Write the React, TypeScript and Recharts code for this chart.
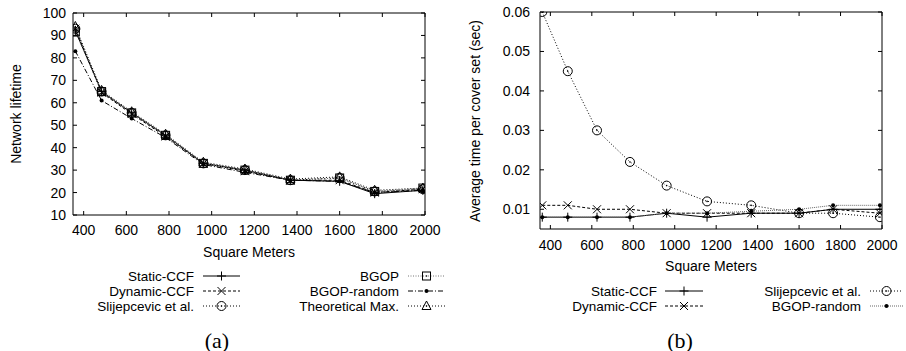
import React from 'react';
import { LineChart, Line, XAxis, YAxis, ReferenceArea } from 'recharts';

// ---------- data ----------
const areas = [361, 484, 625, 784, 961, 1156, 1369, 1600, 1764, 1990];
const xTicks = [400, 600, 800, 1000, 1200, 1400, 1600, 1800, 2000];

// (a) Network lifetime
const lifeStatic = [92, 65, 55.5, 45.5, 33, 30, 25.5, 25, 19.5, 21];
const lifeDynamic = [93, 64.5, 55, 45, 33, 29.5, 25.5, 25.5, 20, 21.5];
const lifeSlij = [93, 65, 55.5, 45.5, 33, 30, 25.5, 26.5, 20.5, 21.5];
const lifeBgop = [91.5, 65, 55.5, 45.5, 33, 30, 25.5, 26.5, 20.5, 22];
const lifeBgopRandom = [83, 61, 53, 44.5, 32.5, 29, 25.5, 25, 20, 21];
const lifeTheoMax = [94, 65.5, 56, 46, 33.5, 30.5, 26, 27, 21, 22];
const lifeYTicks = [10, 20, 30, 40, 50, 60, 70, 80, 90, 100];

// (b) Average time per cover set (sec)
const timeStatic = [0.008, 0.008, 0.008, 0.008, 0.009, 0.008, 0.009, 0.009, 0.01, 0.01];
const timeDynamic = [0.011, 0.011, 0.01, 0.01, 0.009, 0.009, 0.009, 0.009, 0.01, 0.009];
const timeSlij = [0.06, 0.045, 0.03, 0.022, 0.016, 0.012, 0.011, 0.009, 0.009, 0.008];
const timeBgopRandom = [0.008, 0.008, 0.008, 0.008, 0.009, 0.009, 0.0095, 0.01, 0.011, 0.011];
const timeYTicks = [0.01, 0.02, 0.03, 0.04, 0.05, 0.06];

const lifeRows = areas.map((x, i) => ({
  x,
  s: lifeStatic[i],
  d: lifeDynamic[i],
  sl: lifeSlij[i],
  b: lifeBgop[i],
  br: lifeBgopRandom[i],
  t: lifeTheoMax[i],
}));
const timeRows = areas.map((x, i) => ({
  x,
  s: timeStatic[i],
  d: timeDynamic[i],
  sl: timeSlij[i],
  br: timeBgopRandom[i],
}));

type Series = { key: string; name: string; dash?: string; color: string; shape: string };

const lifeSeries: Series[] = [
  { key: 's', name: 'Static-CCF', color: '#000', shape: 'plus' },
  { key: 'd', name: 'Dynamic-CCF', dash: '3 2', color: '#000', shape: 'cross' },
  { key: 'sl', name: 'Slijepcevic et al.', dash: '1 2', color: '#000', shape: 'circle' },
  { key: 'b', name: 'BGOP', dash: '1 1.5', color: '#777', shape: 'square' },
  { key: 'br', name: 'BGOP-random', dash: '5 2 1 2', color: '#000', shape: 'dot' },
  { key: 't', name: 'Theoretical Max.', dash: '1 2', color: '#000', shape: 'triangle' },
];
const timeSeries: Series[] = [
  { key: 's', name: 'Static-CCF', color: '#000', shape: 'plus' },
  { key: 'd', name: 'Dynamic-CCF', dash: '3 2', color: '#000', shape: 'cross' },
  { key: 'sl', name: 'Slijepcevic et al.', dash: '1 2', color: '#000', shape: 'circle' },
  { key: 'br', name: 'BGOP-random', dash: '1 1', color: '#666', shape: 'dot' },
];

const FONT = '"Liberation Sans", Arial, Helvetica, sans-serif';

function Marker({ shape, cx, cy }: { shape: string; cx: number; cy: number }) {
  const st = { stroke: '#000', strokeWidth: 1, fill: 'none' };
  switch (shape) {
    case 'plus':
      return (
        <g>
          <line x1={cx - 4.5} y1={cy} x2={cx + 4.5} y2={cy} {...st} />
          <line x1={cx} y1={cy - 4.5} x2={cx} y2={cy + 4.5} {...st} />
        </g>
      );
    case 'cross':
      return (
        <g>
          <line x1={cx - 4} y1={cy - 4} x2={cx + 4} y2={cy + 4} {...st} />
          <line x1={cx - 4} y1={cy + 4} x2={cx + 4} y2={cy - 4} {...st} />
        </g>
      );
    case 'circle':
      return (
        <g>
          <circle cx={cx} cy={cy} r={4.5} {...st} />
          <circle cx={cx} cy={cy} r={0.8} fill="#000" />
        </g>
      );
    case 'square':
      return (
        <g>
          <rect x={cx - 4} y={cy - 4} width={8} height={8} {...st} />
          <circle cx={cx} cy={cy} r={0.8} fill="#000" />
        </g>
      );
    case 'triangle':
      return (
        <g>
          <polygon points={`${cx},${cy - 5} ${cx - 4.5},${cy + 3.5} ${cx + 4.5},${cy + 3.5}`} {...st} />
          <circle cx={cx} cy={cy} r={0.8} fill="#000" />
        </g>
      );
    default:
      return <circle cx={cx} cy={cy} r={2} fill="#000" />;
  }
}

type Layout = { left: number; right: number; top: number; bottom: number; yGap: number; xGap: number };

const makeXTick = (L: Layout) => (props: any) => {
  const { x, payload } = props;
  return (
    <g>
      <line x1={x} y1={L.bottom} x2={x} y2={L.bottom - 4} stroke="#000" />
      <line x1={x} y1={L.top} x2={x} y2={L.top + 4} stroke="#000" />
      <text x={x} y={L.bottom + L.xGap} textAnchor="middle" dominantBaseline="central" fontFamily={FONT} fontSize={14} fill="#000">
        {payload.value}
      </text>
    </g>
  );
};

const makeYTick = (L: Layout, fmt: (v: number) => string) => (props: any) => {
  const { y, payload } = props;
  return (
    <g>
      <line x1={L.left} y1={y} x2={L.left + 4} y2={y} stroke="#000" />
      <line x1={L.right} y1={y} x2={L.right - 4} y2={y} stroke="#000" />
      <text x={L.left - L.yGap} y={y} textAnchor="end" dominantBaseline="central" fontFamily={FONT} fontSize={14} fill="#000">
        {fmt(payload.value)}
      </text>
    </g>
  );
};

const LA: Layout = { left: 73, right: 425, top: 13, bottom: 215, yGap: 7, xGap: 15 };
const LB: Layout = { left: 87, right: 429, top: 12, bottom: 229, yGap: 10, xGap: 16 };

function Legend({ series, rows, cols }: { series: Series[]; rows: number[]; cols: { textRight: number; s0: number; s1: number }[] }) {
  return (
    <g>
      {series.map((s, i) => {
        const c = cols[Math.floor(i / rows.length)];
        const y = rows[i % rows.length];
        return (
          <g key={s.key}>
            <text x={c.textRight} y={y} textAnchor="end" dominantBaseline="central" fontFamily={FONT} fontSize={13.5} fill="#000">
              {s.name}
            </text>
            <line x1={c.s0} y1={y} x2={c.s1} y2={y} stroke={s.color} strokeDasharray={s.dash} strokeWidth={1} />
            <Marker shape={s.shape} cx={(c.s0 + c.s1) / 2} cy={y} />
          </g>
        );
      })}
    </g>
  );
}

export default function App() {
  return (
    <div style={{ position: 'absolute', left: 0, top: 0, width: 906, height: 351, background: '#fff' }}>
      <div style={{ position: 'absolute', left: 0, top: 0 }}>
        <LineChart width={453} height={351} data={lifeRows} margin={{ top: LA.top, left: LA.left - 40, right: 453 - LA.right, bottom: 351 - LA.bottom - 30 }}>
          <XAxis dataKey="x" type="number" domain={[350, 2000]} ticks={xTicks} allowDataOverflow height={30} axisLine={false} tickLine={false} tick={makeXTick(LA)} interval={0} />
          <YAxis type="number" domain={[10, 100]} ticks={lifeYTicks} allowDataOverflow width={40} axisLine={false} tickLine={false} tick={makeYTick(LA, (v) => String(v))} interval={0} />
          <ReferenceArea x1={350} x2={2000} y1={10} y2={100} fill="none" stroke="#000" strokeWidth={1} />
          {lifeSeries.map((s) => (
            <Line
              key={s.key}
              dataKey={s.key}
              stroke={s.color}
              strokeDasharray={s.dash}
              strokeWidth={1}
              isAnimationActive={false}
              dot={(p: any) => <Marker key={`${s.key}-${p.index}`} shape={s.shape} cx={p.cx} cy={p.cy} />}
            />
          ))}
        </LineChart>
      </div>
      <div style={{ position: 'absolute', left: 453, top: 0 }}>
        <LineChart width={453} height={351} data={timeRows} margin={{ top: LB.top, left: LB.left - 40, right: 453 - LB.right, bottom: 351 - LB.bottom - 30 }}>
          <XAxis dataKey="x" type="number" domain={[350, 2000]} ticks={xTicks} allowDataOverflow height={30} axisLine={false} tickLine={false} tick={makeXTick(LB)} interval={0} />
          <YAxis type="number" domain={[0.005, 0.06]} ticks={timeYTicks} allowDataOverflow width={40} axisLine={false} tickLine={false} tick={makeYTick(LB, (v) => v.toFixed(2))} interval={0} />
          <ReferenceArea x1={350} x2={2000} y1={0.005} y2={0.06} fill="none" stroke="#000" strokeWidth={1} />
          {timeSeries.map((s) => (
            <Line
              key={s.key}
              dataKey={s.key}
              stroke={s.color}
              strokeDasharray={s.dash}
              strokeWidth={1}
              isAnimationActive={false}
              dot={(p: any) => <Marker key={`${s.key}-${p.index}`} shape={s.shape} cx={p.cx} cy={p.cy} />}
            />
          ))}
        </LineChart>
      </div>
      <svg width={906} height={351} style={{ position: 'absolute', left: 0, top: 0, pointerEvents: 'none' }}>
        <text transform="translate(16,114) rotate(-90)" textAnchor="middle" dominantBaseline="central" fontFamily={FONT} fontSize={14} fill="#000">
          Network lifetime
        </text>
        <text x={249} y={252} textAnchor="middle" dominantBaseline="central" fontFamily={FONT} fontSize={14} fill="#000">
          Square Meters
        </text>
        <text transform="translate(475,121) rotate(-90)" textAnchor="middle" dominantBaseline="central" fontFamily={FONT} fontSize={14} fill="#000">
          Average time per cover set (sec)
        </text>
        <text x={711} y={266} textAnchor="middle" dominantBaseline="central" fontFamily={FONT} fontSize={14} fill="#000">
          Square Meters
        </text>
        <Legend
          series={lifeSeries}
          rows={[276, 291, 306]}
          cols={[
            { textRight: 194, s0: 203, s1: 240 },
            { textRight: 399, s0: 408, s1: 445 },
          ]}
        />
        <Legend
          series={timeSeries}
          rows={[291, 306]}
          cols={[
            { textRight: 657, s0: 665, s1: 703 },
            { textRight: 861, s0: 870, s1: 903 },
          ]}
        />
        <text x={217} y={340} textAnchor="middle" dominantBaseline="central" fontFamily={'"Liberation Serif", "Times New Roman", serif'} fontSize={22} fill="#000">
          (a)
        </text>
        <text x={680} y={340} textAnchor="middle" dominantBaseline="central" fontFamily={'"Liberation Serif", "Times New Roman", serif'} fontSize={22} fill="#000">
          (b)
        </text>
      </svg>
    </div>
  );
}
